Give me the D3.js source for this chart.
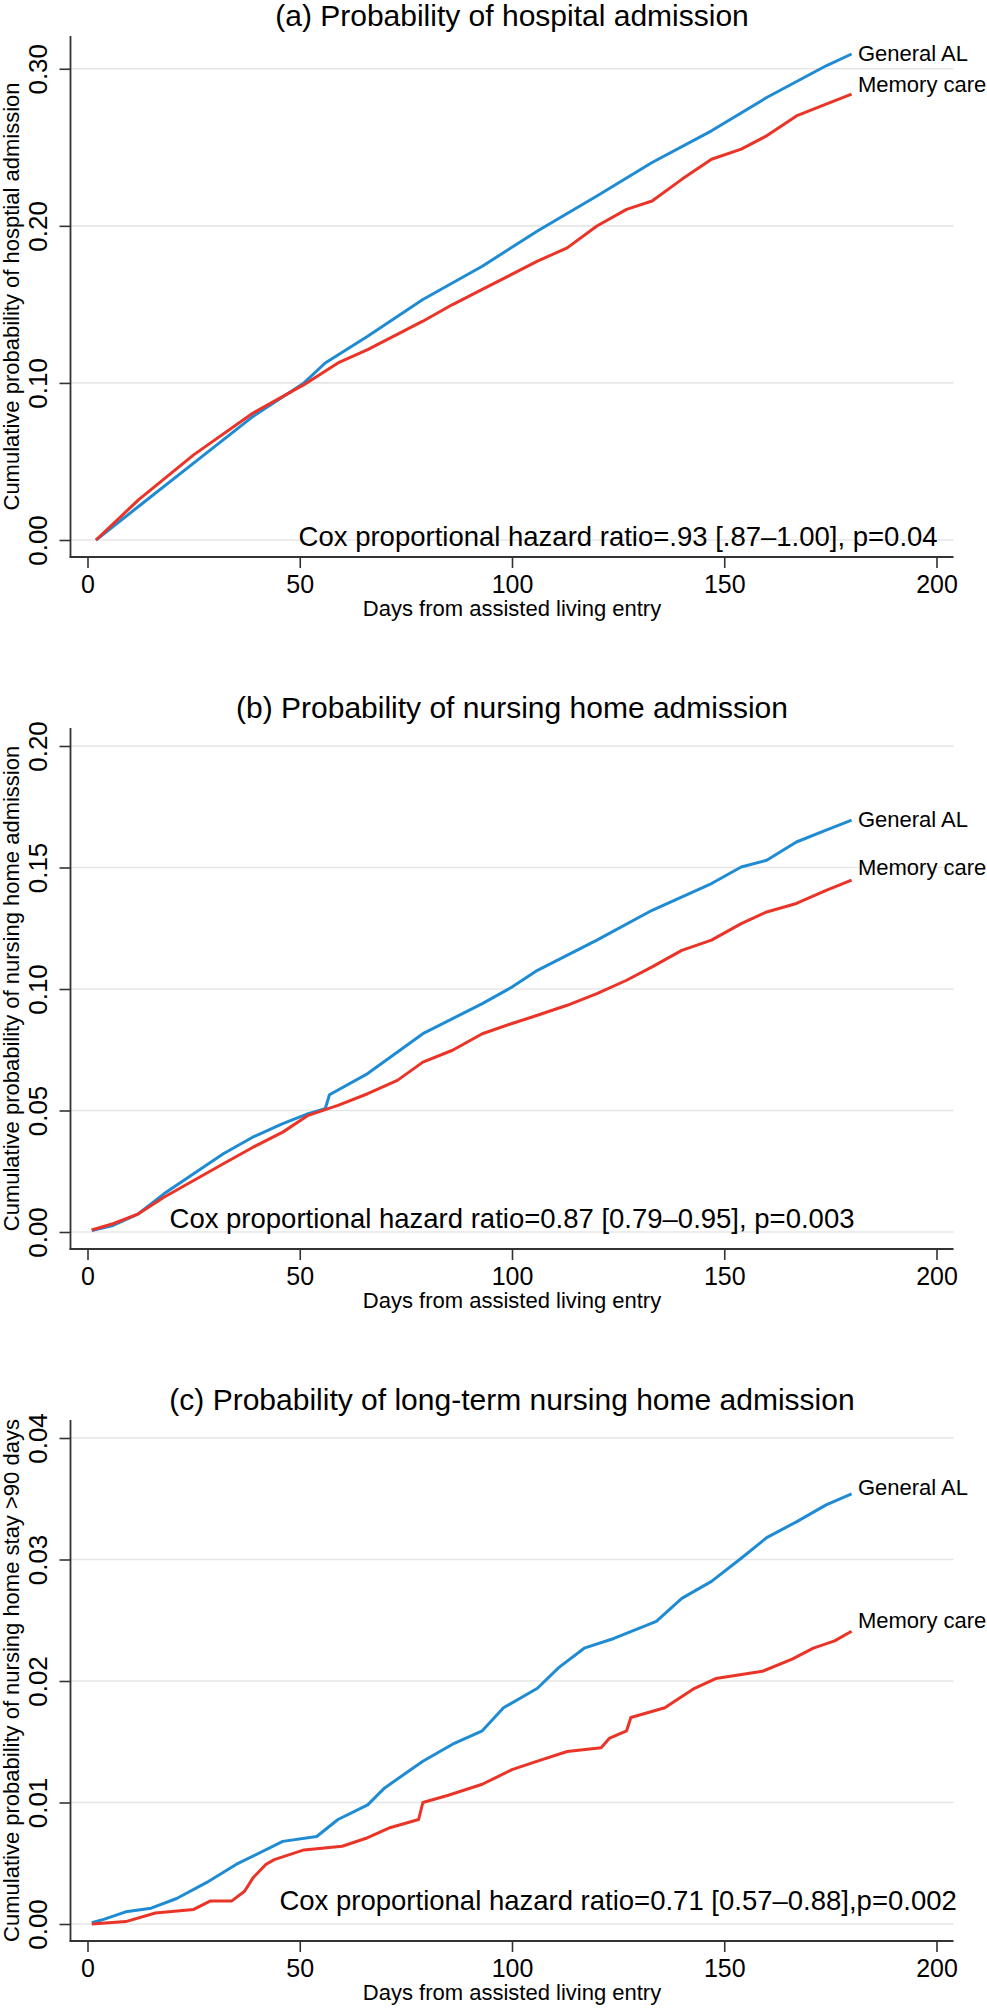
<!DOCTYPE html>
<html><head><meta charset="utf-8">
<script src="https://cdn.jsdelivr.net/npm/d3@7"></script>
<style>
body{margin:0;background:#fff}
svg{display:block}
text{font-family:"Liberation Sans",Arial,Helvetica,sans-serif;fill:#000}
</style>
</head><body>
<svg id="chart" width="987" height="2008"></svg>
<script>
// ---------- data ----------
const xTicks = [0, 50, 100, 150, 200];
const hospTicks = [0, 0.10, 0.20, 0.30];
const nhTicks = [0, 0.05, 0.10, 0.15, 0.20];
const ltTicks = [0, 0.01, 0.02, 0.03, 0.04];
const seriesNames = ["General AL", "Memory care"];

// (a) hospital admission: [day, cumulative probability]
const hospGeneral = [[2,0],[12,0.0213],[25,0.0489],[39,0.0787],[51,0.1000],[56,0.1127],[66,0.1297],[79,0.1531],[93,0.1743],[106,0.1967],[120,0.2190],[133,0.2403],[147,0.2605],[160,0.2817],[174,0.3019],[180,0.3094]];
const hospMemory = [[2,0],[12,0.0255],[25,0.0542],[39,0.0808],[51,0.0989],[59,0.1127],[66,0.1212],[79,0.1393],[86,0.1499],[93,0.1595],[106,0.1775],[113,0.1860],[120,0.1999],[127,0.2105],[133,0.2158],[140,0.2296],[147,0.2424],[154,0.2488],[160,0.2573],[167,0.2700],[174,0.2775],[180,0.2839]];

// (b) nursing home admission
const nhGeneral = [[1,0.0006],[6,0.0027],[12,0.0075],[18,0.0157],[25,0.0240],[32,0.0322],[39,0.0391],[46,0.0446],[52,0.0487],[56,0.0507],[57,0.0565],[66,0.0652],[79,0.0816],[93,0.0940],[100,0.1008],[106,0.1077],[120,0.1201],[133,0.1324],[147,0.1434],[154,0.1502],[160,0.1530],[167,0.1605],[174,0.1654],[180,0.1695]];
const nhMemory = [[1,0.0008],[6,0.0034],[12,0.0075],[18,0.0143],[25,0.0212],[32,0.0281],[39,0.0349],[46,0.0411],[52,0.0480],[59,0.0521],[66,0.0569],[73,0.0624],[79,0.0699],[86,0.0748],[93,0.0816],[100,0.0858],[106,0.0892],[113,0.0933],[120,0.0981],[127,0.1036],[133,0.1091],[140,0.1159],[147,0.1201],[154,0.1269],[160,0.1317],[167,0.1352],[174,0.1406],[180,0.1448]];

// (c) long-term nursing home admission
const ltGeneral = [[1,0.0001],[4,0.0004],[9,0.0010],[15,0.0013],[21,0.0021],[28,0.0034],[35,0.0049],[46,0.0068],[54,0.0072],[59,0.0086],[66,0.0098],[70,0.0112],[79,0.0134],[86,0.0148],[93,0.0159],[98,0.0178],[106,0.0194],[111,0.0211],[117,0.0227],[124,0.0235],[134,0.0249],[140,0.0268],[147,0.0282],[154,0.0301],[160,0.0318],[167,0.0331],[174,0.0345],[180,0.0354]];
const ltMemory = [[1,0],[9,0.0002],[16,0.0009],[25,0.0012],[29,0.0019],[34,0.0019],[37,0.0027],[39,0.0038],[42,0.0049],[44,0.0053],[51,0.0061],[60,0.0064],[66,0.0071],[71,0.0079],[78,0.0086],[79,0.0100],[85,0.0106],[93,0.0115],[100,0.0127],[106,0.0134],[113,0.0142],[121,0.0145],[123,0.0153],[127,0.0159],[128,0.0170],[136,0.0178],[143,0.0194],[148,0.0202],[159,0.0208],[166,0.0218],[171,0.0227],[176,0.0233],[180,0.0241]];

const titles = ["(a) Probability of hospital admission", "(b) Probability of nursing home admission", "(c) Probability of long-term nursing home admission"];
const yTitles = ["Cumulative probability of hosptial admission", "Cumulative probability of nursing home admission", "Cumulative probability of nursing home stay >90 days"];
const notes = ["Cox proportional hazard ratio=.93 [.87\u20131.00], p=0.04", "Cox proportional hazard ratio=0.87 [0.79\u20130.95], p=0.003", "Cox proportional hazard ratio=0.71 [0.57\u20130.88],p=0.002"];
const noteAt = [[125, 0.0022], [100, 0.0056], [125, 0.0020]];          // [day, probability]
const labelAt = [[0.31, 0.29], [0.17, 0.15], [0.036, 0.025]];          // label heights (probability)
const labelDay = 181.5;

// ---------- layout / style ----------
const colors = ["#1f8bd3", "#ea3427"];
const W = 987;
const axisLeft = 70.5, axisRight = 953.5;
const panelTops = [36, 728, 1420];
const plotH = 521;
const pad = 17;

const panels = [
  {ticks: hospTicks, series: [hospGeneral, hospMemory]},
  {ticks: nhTicks, series: [nhGeneral, nhMemory]},
  {ticks: ltTicks, series: [ltGeneral, ltMemory]}
];

const svg = d3.select("#chart");
svg.append("rect").attr("width", W).attr("height", 2008).attr("fill", "#fff");

const x = d3.scaleLinear().domain([0, 200]).range([axisLeft + pad, axisRight - pad]);

panels.forEach((p, i) => {
  const top = panelTops[i], bottom = top + plotH;
  const yMax = Math.max(d3.max(p.ticks), d3.max(p.series, s => d3.max(s, d => d[1])));
  const y = d3.scaleLinear().domain([0, yMax]).range([bottom - pad, top + pad + 1]);
  const g = svg.append("g");

  // gridlines
  g.selectAll(".grid").data(p.ticks).join("line")
    .attr("x1", axisLeft).attr("x2", axisRight)
    .attr("y1", d => y(d)).attr("y2", d => y(d))
    .attr("stroke", "#e6e6e6").attr("stroke-width", 1.6);

  // y axis
  const ya = g.append("g").attr("transform", `translate(${axisLeft},0)`)
    .call(d3.axisLeft(y).tickValues(p.ticks).tickFormat(d3.format(".2f")).tickSize(11).tickSizeOuter(0));
  ya.select(".domain").remove();
  ya.selectAll(".tick line").attr("stroke", "#333").attr("stroke-width", 1.6);
  ya.selectAll(".tick text")
    .attr("x", 0).attr("y", -23.5).attr("dy", null)
    .attr("transform", "rotate(-90)")
    .attr("text-anchor", "middle")
    .style("font-size", "26px").attr("fill", "#000");

  // x axis
  const xa = g.append("g").attr("transform", `translate(0,${bottom})`)
    .call(d3.axisBottom(x).tickValues(xTicks).tickSize(11).tickSizeOuter(0));
  xa.select(".domain").remove();
  xa.selectAll(".tick line").attr("stroke", "#333").attr("stroke-width", 1.6);
  xa.selectAll(".tick text").attr("y", 36).attr("dy", null)
    .style("font-size", "25px").attr("fill", "#000");

  // axis lines
  g.append("line").attr("x1", axisLeft).attr("x2", axisLeft).attr("y1", top).attr("y2", bottom + 0.8)
    .attr("stroke", "#333").attr("stroke-width", 1.8);
  g.append("line").attr("x1", axisLeft - 0.9).attr("x2", axisRight).attr("y1", bottom).attr("y2", bottom)
    .attr("stroke", "#333").attr("stroke-width", 1.8);

  // curves
  const line = d3.line().x(d => x(d[0])).y(d => y(d[1])).curve(d3.curveLinear);
  p.series.forEach((s, k) => {
    g.append("path").datum(s).attr("d", line)
      .attr("fill", "none").attr("stroke", colors[k]).attr("stroke-width", 3)
      .attr("stroke-linejoin", "round");
  });

  // end labels
  seriesNames.forEach((name, k) => {
    g.append("text").attr("x", x(labelDay)).attr("y", y(labelAt[i][k])).attr("dy", "0.36em")
      .style("font-size", "22px").text(name);
  });

  // annotation
  g.append("text").attr("x", x(noteAt[i][0])).attr("y", y(noteAt[i][1])).attr("dy", "0.36em")
    .attr("text-anchor", "middle").style("font-size", "27.5px").text(notes[i]);

  // title
  g.append("text").attr("x", (axisLeft + axisRight) / 2).attr("y", top - 10.5)
    .attr("text-anchor", "middle").style("font-size", "30px").text(titles[i]);

  // axis titles
  g.append("text").attr("transform", `translate(19,${(top + bottom) / 2}) rotate(-90)`)
    .attr("text-anchor", "middle").style("font-size", "22px").text(yTitles[i]);
  g.append("text").attr("x", (axisLeft + axisRight) / 2).attr("y", bottom + 59)
    .attr("text-anchor", "middle").style("font-size", "22px").text("Days from assisted living entry");
});
</script>
</body></html>
